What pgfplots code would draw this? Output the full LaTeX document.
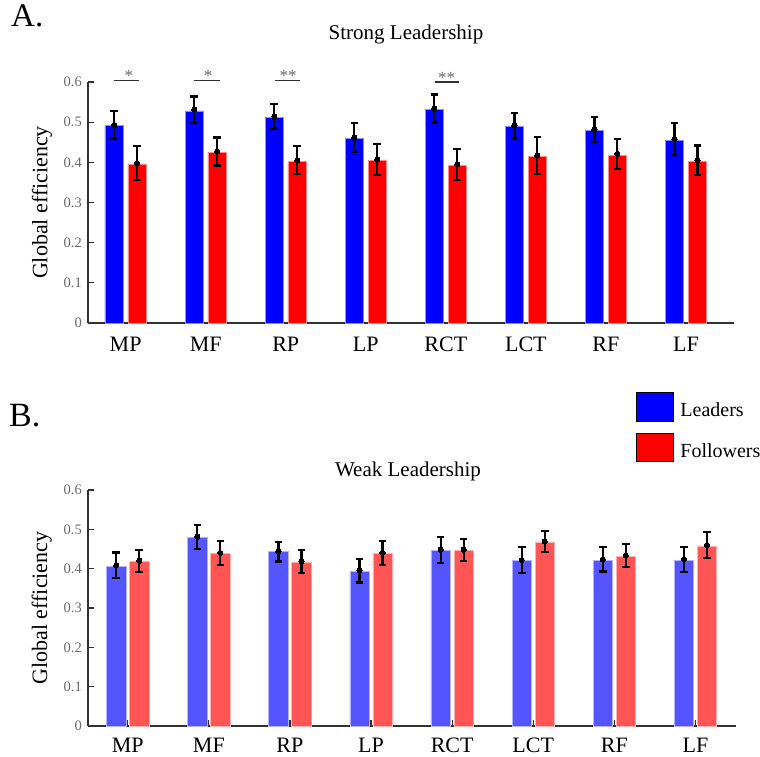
\documentclass[border=0pt]{standalone}
\usepackage{fontspec}
\setmainfont{Liberation Serif}
\usepackage{pgfplots}
\pgfplotsset{compat=1.18}

\definecolor{ticklab}{RGB}{105,105,105}
\definecolor{axcol}{RGB}{50,50,50}
\definecolor{lblue}{RGB}{85,85,255}
\definecolor{lred}{RGB}{255,85,85}
\definecolor{sigcol}{RGB}{95,105,115}

\pgfplotsset{
  mystyle/.style={
    scale only axis,
    ymin=0, ymax=0.6,
    ytick={0,0.1,0.2,0.3,0.4,0.5,0.6},
    yticklabels={0,0.1,0.2,0.3,0.4,0.5,0.6},
    xtick={0,1,2,3,4,5,6,7},
    xticklabels={MP,MF,RP,LP,RCT,LCT,RF,LF},
    axis x line*=bottom, axis y line*=left,
    axis line style={axcol, line width=1.2pt},
    tick align=inside,
    major tick length=6pt,
    tick style={axcol, line width=1.2pt},
    y tick label style={ticklab, font=\fontsize{14.5}{16}\selectfont, inner sep=0pt},
    yticklabel shift=6pt,
    x tick label style={black, font=\fontsize{22}{24}\selectfont, inner sep=0pt},
    /pgf/number format/assume math mode=true,
    ylabel={Global efficiency},
    every axis y label/.style={at={(axis description cs:-0.0712,0.5)}, rotate=90, anchor=center, font=\fontsize{22}{24}\selectfont},
    clip=false,
    enlargelimits=false,
  },
  errplot/.style={only marks, mark=*, mark size=2.6pt, mark options={black, fill=black, line width=0pt},
    error bars/y dir=both, error bars/y explicit,
    error bars/error bar style={black, line width=2.2pt},
    error bars/error mark options={rotate=90, black, mark size=3.8pt, line width=2.2pt}},
}

\begin{document}
\begin{tikzpicture}
\useasboundingbox (0pt,0pt) rectangle (760pt,757pt);

\node[anchor=base west, inner sep=0pt, font=\fontsize{33}{36}\selectfont] at (11pt,730pt) {A.};
\node[anchor=base west, inner sep=0pt, font=\fontsize{34}{36}\selectfont] at (9pt,330pt) {B.};
\node[anchor=base, inner sep=0pt, font=\fontsize{21}{24}\selectfont] at (406pt,717pt) {Strong Leadership};
\node[anchor=base, inner sep=0pt, font=\fontsize{21}{24}\selectfont] at (408pt,280pt) {Weak Leadership};

% ---------- Top: strong leadership ----------
\begin{axis}[mystyle,
  at={(88pt,434pt)}, anchor=south west,
  width=646pt, height=241pt,
  xmin=-0.47, xmax=7.6,
  bar width=0.23,
  x tick style={draw=none},
  xticklabel shift=14pt,
]
% Leaders bars
\addplot[ybar, fill=blue, draw=blue!45!white, line width=0.6pt, bar shift=-0.143]
  coordinates {(0,0.491) (1,0.528) (2,0.512) (3,0.459) (4,0.532) (5,0.489) (6,0.479) (7,0.455)};
% Followers bars
\addplot[ybar, fill=red, draw=red!45!white, line width=0.6pt, bar shift=0.143]
  coordinates {(0,0.396) (1,0.425) (2,0.403) (3,0.405) (4,0.392) (5,0.415) (6,0.417) (7,0.402)};
% Leaders means and errors
\addplot[errplot] coordinates {
  (-0.143,0.493) +- (0,0.034)
  (0.857,0.531) +- (0,0.033)
  (1.857,0.515) +- (0,0.031)
  (2.857,0.461) +- (0,0.036)
  (3.857,0.534) +- (0,0.035)
  (4.857,0.491) +- (0,0.032)
  (5.857,0.481) +- (0,0.031)
  (6.857,0.458) +- (0,0.040)
  };
% Followers means and errors
\addplot[errplot] coordinates {
  (0.143,0.398) +- (0,0.042)
  (1.143,0.427) +- (0,0.035)
  (2.143,0.405) +- (0,0.035)
  (3.143,0.407) +- (0,0.038)
  (4.143,0.395) +- (0,0.039)
  (5.143,0.417) +- (0,0.046)
  (6.143,0.421) +- (0,0.037)
  (7.143,0.405) +- (0,0.037)
  };
% significance markers
\draw[axcol, line width=1.2pt] (axis cs:-0.14,0.603) -- (axis cs:0.17,0.603);
\node[sigcol, anchor=base, inner sep=0pt, font=\fontsize{17}{18}\selectfont] at (axis cs:0.04,0.600) {*};
\draw[axcol, line width=1.2pt] (axis cs:0.86,0.603) -- (axis cs:1.18,0.603);
\node[sigcol, anchor=base, inner sep=0pt, font=\fontsize{17}{18}\selectfont] at (axis cs:1.03,0.600) {*};
\draw[axcol, line width=1.2pt] (axis cs:1.86,0.603) -- (axis cs:2.18,0.603);
\node[sigcol, anchor=base, inner sep=0pt, font=\fontsize{17}{18}\selectfont] at (axis cs:2.03,0.600) {**};
\draw[axcol, line width=1.2pt] (axis cs:3.86,0.600) -- (axis cs:4.16,0.600);
\node[sigcol, anchor=base, inner sep=0pt, font=\fontsize{17}{18}\selectfont] at (axis cs:4.01,0.597) {**};
\end{axis}

% ---------- Bottom: weak leadership ----------
\begin{axis}[mystyle,
  at={(88pt,31pt)}, anchor=south west,
  width=648pt, height=236pt,
  xmin=-0.49, xmax=7.5,
  bar width=0.24,
  xticklabel shift=12pt,
  legend style={at={(axis description cs:0.8457,1.415)}, anchor=north west,
    draw=none, fill=none, inner sep=0pt, outer sep=0pt,
    font=\fontsize{20}{24}\selectfont, row sep=12pt,
    nodes={inner sep=0pt},
    /tikz/every odd column/.style={column sep=7pt}},
  legend cell align=left,
  legend image code/.code={\fill[#1] (0pt,-10.5pt) rectangle (37pt,18pt);},
]
\addlegendimage{fill=blue}
\addlegendentry{Leaders}
\addlegendimage{fill=red}
\addlegendentry{Followers}
\addplot[ybar, fill=lblue, draw=lblue!45!white, line width=0.6pt, bar shift=-0.142, forget plot]
  coordinates {(0,0.406) (1,0.480) (2,0.443) (3,0.394) (4,0.446) (5,0.421) (6,0.422) (7,0.422)};
\addplot[ybar, fill=lred, draw=lred!45!white, line width=0.6pt, bar shift=0.142, forget plot]
  coordinates {(0,0.418) (1,0.439) (2,0.417) (3,0.439) (4,0.446) (5,0.468) (6,0.432) (7,0.458)};
\addplot[forget plot, errplot] coordinates {
  (-0.142,0.409) +- (0,0.032)
  (0.858,0.481) +- (0,0.030)
  (1.858,0.443) +- (0,0.025)
  (2.858,0.395) +- (0,0.030)
  (3.858,0.448) +- (0,0.033)
  (4.858,0.422) +- (0,0.033)
  (5.858,0.424) +- (0,0.031)
  (6.858,0.424) +- (0,0.032)
  };
\addplot[forget plot, errplot] coordinates {
  (0.142,0.420) +- (0,0.028)
  (1.142,0.440) +- (0,0.031)
  (2.142,0.418) +- (0,0.029)
  (3.142,0.440) +- (0,0.030)
  (4.142,0.448) +- (0,0.028)
  (5.142,0.469) +- (0,0.026)
  (6.142,0.433) +- (0,0.029)
  (7.142,0.460) +- (0,0.033)
  };
\end{axis}
\end{tikzpicture}
\end{document}
